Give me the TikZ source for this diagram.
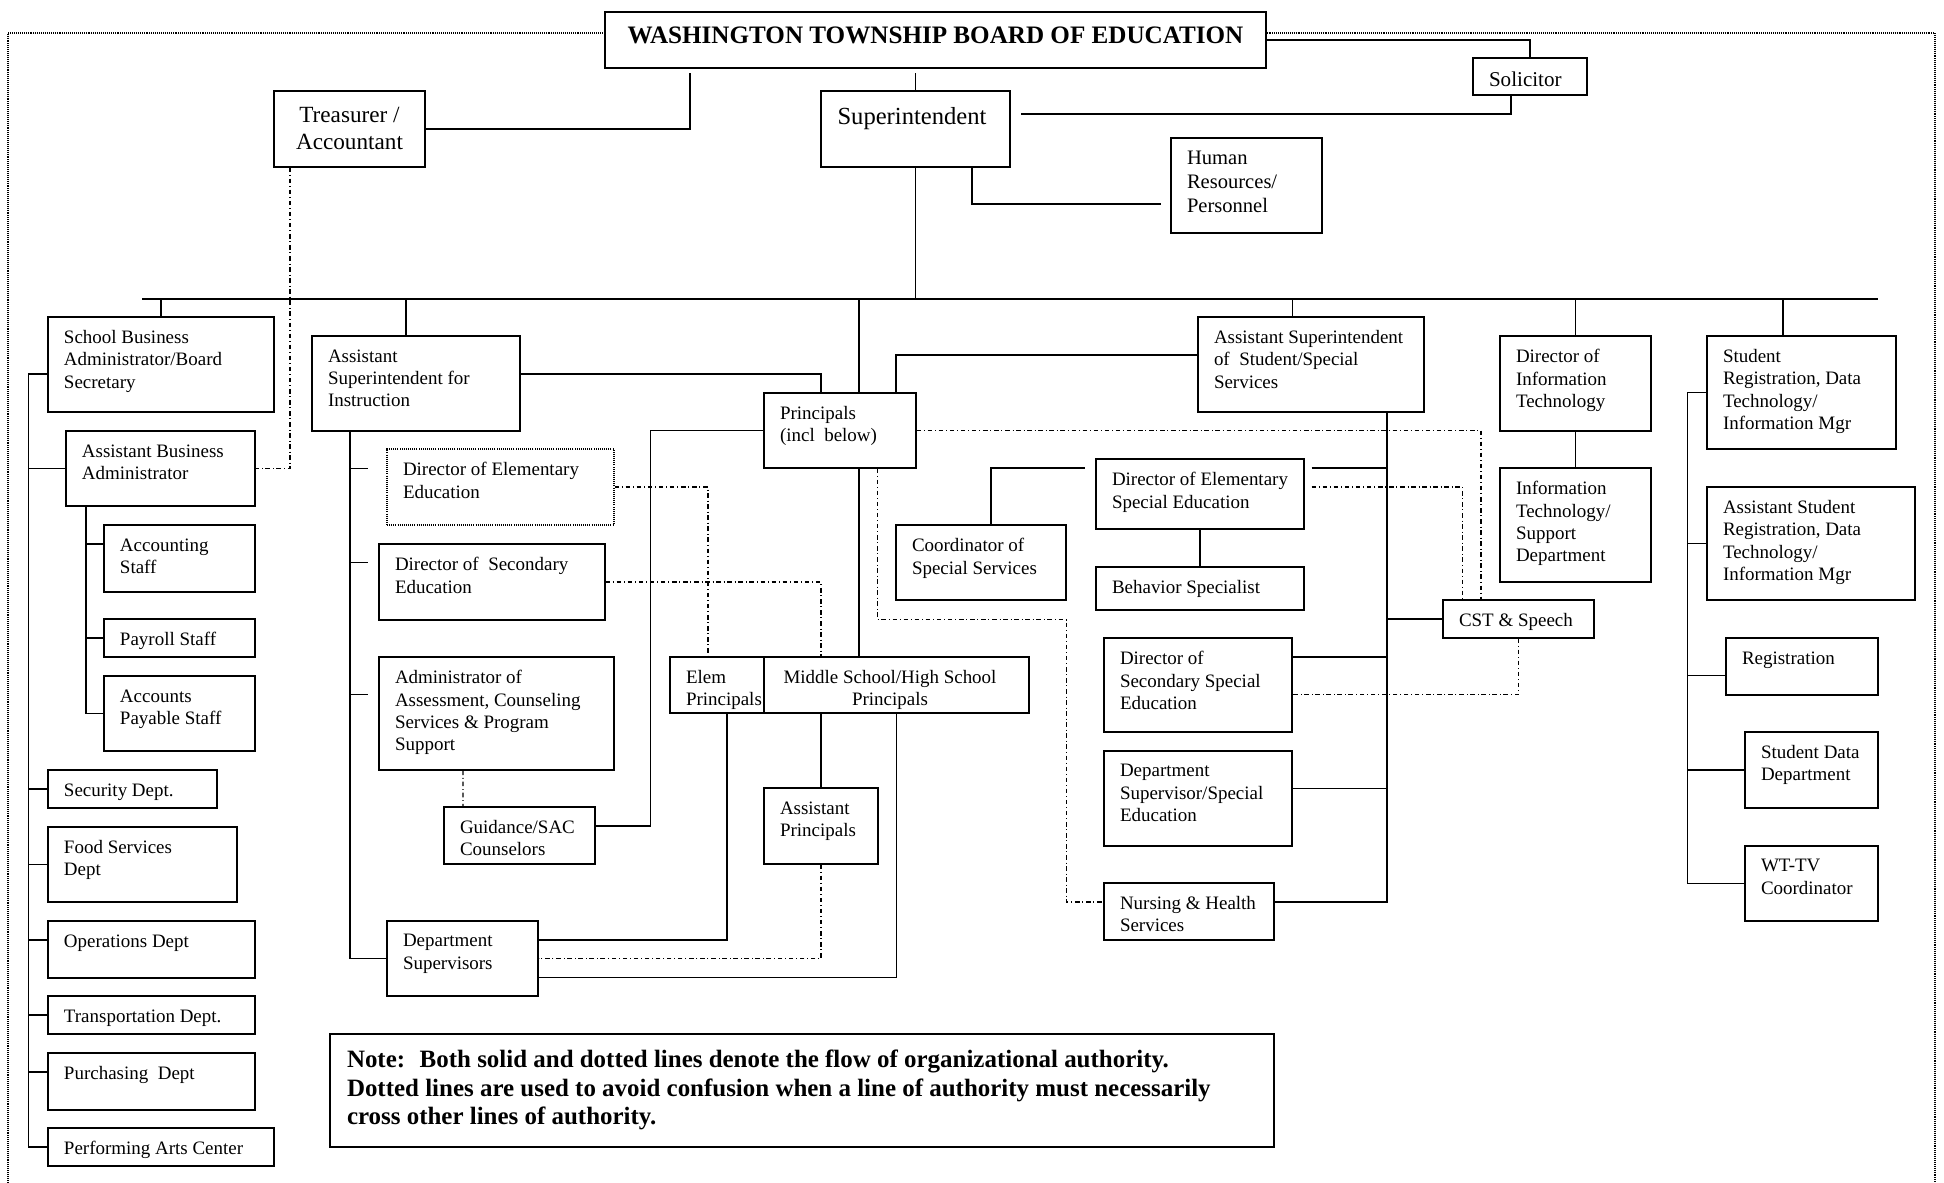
\documentclass[tikz,border=0pt]{standalone}
\usepackage{fontspec}
\setmainfont{Liberation Serif}
\usetikzlibrary{fit}

\begin{document}
\begin{tikzpicture}[x=0.02cm, y=-0.02cm, line width=0.65pt,
  font=\fontsize{10.8}{12.7}\selectfont,
  unit/.style={draw, inner sep=0pt},
  txt/.style={anchor=north west, align=left, inner sep=0pt,
              xshift=0.32cm, yshift=-0.27cm},
  ctxt/.style={anchor=north, align=center, inner sep=0pt, yshift=-0.3cm},
  dashdot/.style={dash pattern=on 2.6pt off 1.6pt on 0.5pt off 1.6pt},
  frame/.style={dash pattern=on 0.5pt off 0.6pt, line width=0.8pt}
]
  \useasboundingbox (0,0) rectangle (1944,1183);
  \coordinate (frameSW) at (8,1183);
  \coordinate (frameSE) at (1935,1183);
  \coordinate (busW) at (142,299);
  \coordinate (busE) at (1878,299);
  \coordinate (trtop) at (690,73);
  \coordinate (solend) at (1021,114);
  \coordinate (hrend) at (1161,204);

  % board and officers
  \node[unit, fit={(605,12) (1266,68)}] (board) {};
  \node[ctxt, yshift=0.01cm, font=\fontsize{14.3}{16}\selectfont\bfseries] (boardT) at (board.north)
        {WASHINGTON TOWNSHIP BOARD OF EDUCATION};
  \node[unit, fit={(274,91) (425,167)}] (treas) {};
  \node[ctxt, yshift=-0.02cm, font=\fontsize{13.2}{15.3}\selectfont] (treasT) at (treas.north)
        {Treasurer /\\Accountant};
  \node[unit, fit={(821,91) (1010,167)}] (supt) {};
  \node[ctxt, xshift=-0.07cm, yshift=-0.02cm, font=\fontsize{14}{16}\selectfont] (suptT) at (supt.north)
        {Superintendent};
  \node[unit, fit={(1473,58) (1587,95)}] (solic) {};
  \node[txt, yshift=-0.01cm, font=\fontsize{12}{14}\selectfont] (solicT) at (solic.north west) {Solicitor};
  \node[unit, fit={(1171,138) (1322,233)}] (hr) {};
  \node[txt, font=\fontsize{11.7}{13.6}\selectfont] (hrT) at (hr.north west) {Human\\Resources/\\Personnel};

  % second level
  \node[unit, fit={(48,317) (274,412)}] (sba) {};
  \node[txt] (sbaT) at (sba.north west) {School Business\\Administrator/Board\\Secretary};
  \node[unit, fit={(312,336) (520,431)}] (asi) {};
  \node[txt] (asiT) at (asi.north west) {Assistant\\Superintendent for\\Instruction};
  \node[unit, fit={(764,393) (916,468)}] (prin) {};
  \node[txt] (prinT) at (prin.north west) {Principals\\(incl~ below)};
  \node[unit, fit={(1198,317) (1424,412)}] (ass) {};
  \node[txt] (assT) at (ass.north west) {Assistant Superintendent\\of~ Student/Special\\Services};
  \node[unit, fit={(1500,336) (1651,431)}] (dit) {};
  \node[txt] (ditT) at (dit.north west) {Director of\\Information\\Technology};
  \node[unit, fit={(1707,336) (1896,449)}] (sreg) {};
  \node[txt] (sregT) at (sreg.north west) {Student\\Registration, Data\\Technology/\\Information Mgr};

  % business office
  \node[unit, fit={(66,431) (255,506)}] (aba) {};
  \node[txt] (abaT) at (aba.north west) {Assistant Business\\Administrator};
  \node[unit, fit={(104,525) (255,592)}] (acc) {};
  \node[txt] (accT) at (acc.north west) {Accounting\\Staff};
  \node[unit, fit={(104,619) (255,657)}] (pay) {};
  \node[txt] (payT) at (pay.north west) {Payroll Staff};
  \node[unit, fit={(104,676) (255,751)}] (ap) {};
  \node[txt] (apT) at (ap.north west) {Accounts\\Payable Staff};
  \node[unit, fit={(48,770) (217,808)}] (sec) {};
  \node[txt] (secT) at (sec.north west) {Security Dept.};
  \node[unit, fit={(48,827) (237,902)}] (food) {};
  \node[txt] (foodT) at (food.north west) {Food Services\\Dept};
  \node[unit, fit={(48,921) (255,978)}] (ops) {};
  \node[txt] (opsT) at (ops.north west) {Operations Dept};
  \node[unit, fit={(48,996) (255,1034)}] (trans) {};
  \node[txt] (transT) at (trans.north west) {Transportation Dept.};
  \node[unit, fit={(48,1053) (255,1110)}] (purch) {};
  \node[txt] (purchT) at (purch.north west) {Purchasing~ Dept};
  \node[unit, fit={(48,1128) (274,1166)}] (pac) {};
  \node[txt] (pacT) at (pac.north west) {Performing Arts Center};

  % instruction
  \node[unit, dash pattern=on 0.5pt off 0.7pt, fit={(387,449) (614,525)}] (dee) {};
  \node[txt] (deeT) at (dee.north west) {Director of Elementary\\Education};
  \node[unit, fit={(379,544) (605,620)}] (dse) {};
  \node[txt] (dseT) at (dse.north west) {Director of~ Secondary\\Education};
  \node[unit, fit={(379,657) (614,770)}] (aac) {};
  \node[txt] (aacT) at (aac.north west) {Administrator of\\Assessment, Counseling\\Services \& Program\\Support};
  \node[unit, fit={(444,807) (595,864)}] (guid) {};
  \node[txt] (guidT) at (guid.north west) {Guidance/SAC\\Counselors};
  \node[unit, fit={(387,921) (538,996)}] (dsup) {};
  \node[txt] (dsupT) at (dsup.north west) {Department\\Supervisors};

  % schools
  \node[unit, fit={(670,657) (764,713)}] (elem) {};
  \node[txt] (elemT) at (elem.north west) {Elem\\Principals};
  \node[unit, fit={(764,657) (1029,713)}] (mshs) {};
  \node[ctxt, xshift=-0.13cm, yshift=0.04cm] (mshsT) at (mshs.north) {Middle School/High School\\Principals};
  \node[unit, fit={(764,788) (878,864)}] (aprin) {};
  \node[txt] (aprinT) at (aprin.north west) {Assistant\\Principals};

  % student / special services
  \node[unit, fit={(896,525) (1066,600)}] (coord) {};
  \node[txt] (coordT) at (coord.north west) {Coordinator of\\Special Services};
  \node[unit, fit={(1096,459) (1304,529)}] (dese) {};
  \node[txt] (deseT) at (dese.north west) {Director of Elementary\\Special Education};
  \node[unit, fit={(1096,567) (1304,610)}] (beh) {};
  \node[txt] (behT) at (beh.north west) {Behavior Specialist};
  \node[unit, fit={(1104,638) (1292,732)}] (dsse) {};
  \node[txt] (dsseT) at (dsse.north west) {Director of\\Secondary Special\\Education};
  \node[unit, fit={(1104,751) (1292,846)}] (dsupse) {};
  \node[txt] (dsupseT) at (dsupse.north west) {Department\\Supervisor/Special\\Education};
  \node[unit, fit={(1104,883) (1274,940)}] (nurse) {};
  \node[txt] (nurseT) at (nurse.north west) {Nursing \& Health\\Services};
  \node[unit, fit={(1443,600) (1594,638)}] (cst) {};
  \node[txt] (cstT) at (cst.north west) {CST \& Speech};

  % IT and registration
  \node[unit, fit={(1500,468) (1651,582)}] (its) {};
  \node[txt] (itsT) at (its.north west) {Information\\Technology/\\Support\\Department};
  \node[unit, fit={(1707,487) (1915,600)}] (asreg) {};
  \node[txt] (asregT) at (asreg.north west) {Assistant Student\\Registration, Data\\Technology/\\Information Mgr};
  \node[unit, fit={(1726,638) (1878,695)}] (reg) {};
  \node[txt] (regT) at (reg.north west) {Registration};
  \node[unit, fit={(1745,732) (1878,808)}] (sdd) {};
  \node[txt] (sddT) at (sdd.north west) {Student Data\\Department};
  \node[unit, fit={(1745,846) (1878,921)}] (wttv) {};
  \node[txt] (wttvT) at (wttv.north west) {WT-TV\\Coordinator};

  \node[unit, fit={(330,1034) (1274,1147)}] (note) {};
  \node[txt, xshift=0.02cm, yshift=-0.05cm, font=\fontsize{14.2}{16.2}\selectfont\bfseries] (noteT) at (note.north west)
        {Note:~ Both solid and dotted lines denote the flow of organizational authority.\\Dotted lines are used to avoid confusion when a line of authority must necessarily\\cross other lines of authority.};

  % frame
  \draw[frame] ([yshift=0.14cm]board.west) -| (frameSW);
  \draw[frame] ([yshift=0.14cm]board.east) -| (frameSE);

  % solid lines
  \draw (treas.east) -| (trtop);
  \draw (supt.north) -- (supt.north |- trtop);
  \draw (board.east) -| (solic.north);
  \draw ([xshift=-0.38cm]solic.south) |- (solend);
  \draw ([xshift=1.13cm]supt.south) |- (hrend);
  \draw (busW) -- (busE);
  \draw (supt.south) -- (supt.south |- busW);
  \foreach \n/\dx/\dy in {sba/0/18, asi/-0.2/37, prin/0.38/94, ass/-0.37/18, dit/0/37, sreg/-0.37/37}
    \draw ([xshift=\dx cm]\n.north) -- ++(0,-\dy);

  \draw ([yshift=-0.19cm]sba.west) -| ([xshift=-0.38cm]pac.west) -- (pac.west);
  \foreach \n/\dx/\dy in {aba/37/0, sec/19/0, food/19/0, ops/19/0.19, trans/19/0, purch/19/0.19}
    \draw ([yshift=\dy cm]\n.west) -- ++(-\dx,0);
  \draw ([xshift=-1.49cm]aba.south) |- (ap.west);
  \draw ([yshift=0.29cm]acc.west) -- ++(-18,0);
  \draw (pay.west) -- ++(-18,0);

  \draw ([xshift=-1.32cm]asi.south) |- (dsup.west);
  \draw ([xshift=-0.74cm, yshift=0.37cm]dee.west) -- ++(19,0);
  \draw ([xshift=-0.58cm, yshift=0.39cm]dse.west) -- ++(19,0);
  \draw ([xshift=-0.58cm, yshift=0.38cm]aac.west) -- ++(19,0);
  \draw ([yshift=0.19cm]asi.east) -| ([xshift=-0.38cm]prin.north);
  \draw ([yshift=0.19cm]ass.west) -| ([xshift=1.12cm]prin.north);
  \draw (prin.west) -- ++(-113,0) |- ([yshift=0.19cm]guid.east);
  \draw ([xshift=0.38cm]prin.south) -- ++(0,189);
  \draw (mshs.south -| aprin.north) -- (aprin.north);
  \draw ([xshift=0.2cm]elem.south) |- ([yshift=0.37cm]dsup.east);
  \draw (mshs.south) |- ([yshift=-0.38cm]dsup.east);

  \draw ([xshift=1.52cm]ass.south) |- ([yshift=0.19cm]nurse.east);
  \draw ([xshift=0.2cm]coord.north) |- ([xshift=-0.21cm, yshift=0.52cm]dese.west);
  \draw ([xshift=0.14cm, yshift=0.52cm]dese.east) -- ++(76,0);
  \draw (dese.south) -- (beh.north);
  \draw (cst.west) -- ++(-56,0);
  \draw ([yshift=0.56cm]dsse.east) -- ++(95,0);
  \draw ([yshift=0.2cm]dsupse.east) -- ++(95,0);
  \draw (dit.south) -- (its.north);
  \draw (sreg.west) -- ++(-19,0) |- (wttv.west);
  \draw (asreg.west) -- ++(-19,0);
  \draw ([yshift=-0.18cm]reg.west) -- ++(-38,0);
  \draw (sdd.west) -- ++(-57,0);

  % dash-dot lines
  \draw[dashdot] ([xshift=-1.19cm]treas.south) |- (aba.east);
  \draw[dashdot] (dee.east) -| ([xshift=-0.18cm]elem.north);
  \draw[dashdot] (dse.east) -| ([xshift=-1.51cm]mshs.north);
  \draw[dashdot] ([xshift=-0.67cm]aac.south) -- ([xshift=-1.13cm]guid.north);
  \draw[dashdot] (aprin.south) |- (dsup.east);
  \draw[dashdot] ([xshift=0.75cm]prin.south) -- ++(0,151) -- ++(189,0) |- ([yshift=0.19cm]nurse.west);
  \draw[dashdot] (prin.east) -| ([xshift=-0.75cm]cst.north);
  \draw[dashdot] ([xshift=0.14cm, yshift=0.14cm]dese.east) -| ([xshift=-1.12cm]cst.north);
  \draw[dashdot] (cst.south) |- ([yshift=-0.19cm]dsse.east);
\end{tikzpicture}
\end{document}
